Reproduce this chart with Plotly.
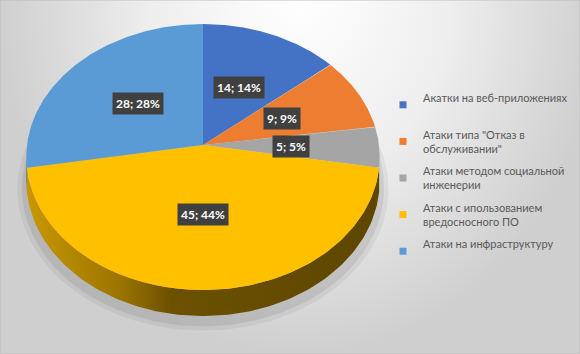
import numpy as np
import plotly.graph_objects as go

# ---------------- data ----------------
categories = [
    "Акатки на веб-приложениях",
    'Атаки типа "Отказ в обслуживании"',
    "Атаки методом социальной инженерии",
    "Атаки с ипользованием вредосносного ПО",
    "Атаки на инфраструктуру",
]
legend_labels = [
    "Акатки на веб-приложениях<br> ",
    'Атаки типа "Отказ в<br>обслуживании"',
    "Атаки методом социальной<br>инженерии",
    "Атаки с ипользованием<br>вредосносного ПО",
    "Атаки на инфраструктуру<br> ",
]
values = [14, 9, 5, 45, 28]
percents = [14, 9, 5, 44, 28]

# ---------------- style ----------------
colors = ["#4472C4", "#ED7D31", "#A5A5A5", "#FFC000", "#5B9BD5"]
side_colors = ["#2f5597", "#a85520", "#6e6e6e", "#7a5c00", "#3e6f9c"]
W, H = 580, 354
CX, CY = 203, 145          # projected centre of the pie
RX, RY = 176, 131.9        # radii of the top face
PERSP = 0.0902             # perspective factor
DEPTH = 23.7               # thickness of the pie
FONT = "Lato"


def proj(theta_deg, r=1.0, dz=0.0):
    t = np.radians(theta_deg)
    s = 1.0 / (1.0 + PERSP * r * np.cos(t))
    x = CX + RX * r * np.sin(t) * s
    y = CY - RY * r * np.cos(t) * s + dz * s
    return x, y


total = float(sum(values))
angles = np.concatenate([[0.0], np.cumsum(values) / total * 360.0])

fig = go.Figure()

# background (radial gradient, lightest near the top centre)
fig.add_trace(go.Scatter(
    x=[0, 600, 600, 0, 0], y=[-354, -354, 354, 354, -354],
    mode="lines", line=dict(width=0), fill="toself",
    fillgradient=dict(type="radial",
                      colorscale=[[0, "#ffffff"], [0.5, "#eeeeee"], [1, "#cfcfcf"]]),
    hoverinfo="skip", showlegend=False))

# soft shadow under the pie
for k, op in [(1.05, 0.05), (1.025, 0.07)]:
    th = np.linspace(0, 360, 241)
    xs, ys = proj(th, 1.0, DEPTH)
    xs = CX + (xs - CX) * k
    ys = CY + 6 + (ys - CY) * k
    fig.add_trace(go.Scatter(x=xs, y=ys, mode="lines", line=dict(width=0),
                             fill="toself", fillcolor=f"rgba(0,0,0,{op})",
                             hoverinfo="skip", showlegend=False))

# sides of the pie (front half only)
vis_lo = np.degrees(np.arccos(-PERSP))
vis_hi = 360 - vis_lo
for i in range(len(values)):
    lo = max(angles[i], vis_lo)
    hi = min(angles[i + 1], vis_hi)
    if hi <= lo:
        continue
    th = np.linspace(lo, hi, 120)
    xt, yt = proj(th)
    xb, yb = proj(th[::-1], 1.0, DEPTH)
    xs = np.concatenate([xt, xb, xt[:1]])
    ys = np.concatenate([yt, yb, yt[:1]])
    kw = {}
    if colors[i] == "#FFC000":
        kw["fillgradient"] = dict(type="horizontal", colorscale=[
            [0, "#c99700"], [0.27, "#9a7400"], [0.41, "#6b5100"], [1, "#5e4600"]])
    else:
        kw["fillcolor"] = side_colors[i]
    fig.add_trace(go.Scatter(x=xs, y=ys, mode="lines", line=dict(width=0),
                             fill="toself", hoverinfo="skip", showlegend=False, **kw))

# top faces of the slices
for i in range(len(values)):
    th = np.linspace(angles[i], angles[i + 1], 150)
    xa, ya = proj(th)
    xs = np.concatenate([[CX], xa, [CX]])
    ys = np.concatenate([[CY], ya, [CY]])
    fig.add_trace(go.Scatter(x=xs, y=ys, mode="lines", line=dict(width=0),
                             fill="toself", fillcolor=colors[i],
                             name=categories[i], hoverinfo="name",
                             showlegend=False))

# legend entries
for i in range(len(values)):
    fig.add_trace(go.Scatter(x=[None], y=[None], mode="markers",
                             marker=dict(symbol="square", size=7, color=colors[i]),
                             name=legend_labels[i], legendgroup=f"g{i}",
                             showlegend=True))

# data labels
for i in range(len(values)):
    mid = (angles[i] + angles[i + 1]) / 2
    lx, ly = proj(mid, 0.5)
    fig.add_annotation(x=lx, y=ly, xref="x", yref="y",
                       text=f"<b>{values[i]}; {percents[i]}%</b>",
                       showarrow=False, bgcolor="#404040", borderpad=3,
                       font=dict(family=FONT, size=12, color="#ffffff"))

fig.update_layout(
    width=W, height=H, autosize=False,
    margin=dict(l=0, r=0, t=0, b=0, autoexpand=False),
    paper_bgcolor="#e4e4e4", plot_bgcolor="#e4e4e4",
    xaxis=dict(range=[0, W], visible=False, fixedrange=True),
    yaxis=dict(range=[H, 0], visible=False, fixedrange=True),
    showlegend=True,
    legend=dict(x=383 / W, y=1 - 84 / H, xanchor="left", yanchor="top",
                font=dict(family=FONT, size=11, color="#595959"),
                bgcolor="rgba(0,0,0,0)", tracegroupgap=5,
                itemwidth=30),
    shapes=[
        dict(type="rect", xref="paper", yref="paper",
             x0=405 / W, x1=570 / W, y0=1 - 268 / H, y1=1 - 84 / H,
             line=dict(width=0), fillcolor="rgba(255,255,255,0.28)", layer="below"),
        dict(type="rect", xref="paper", yref="paper", x0=0, y0=0, x1=1, y1=1,
             line=dict(color="#bdbdbd", width=1), fillcolor="rgba(0,0,0,0)"),
    ],
)

fig.write_html("out.html", config={"responsive": False, "displayModeBar": False},
               post_script="document.body.style.margin='0px';"
                           "document.documentElement.style.overflow='hidden';")
